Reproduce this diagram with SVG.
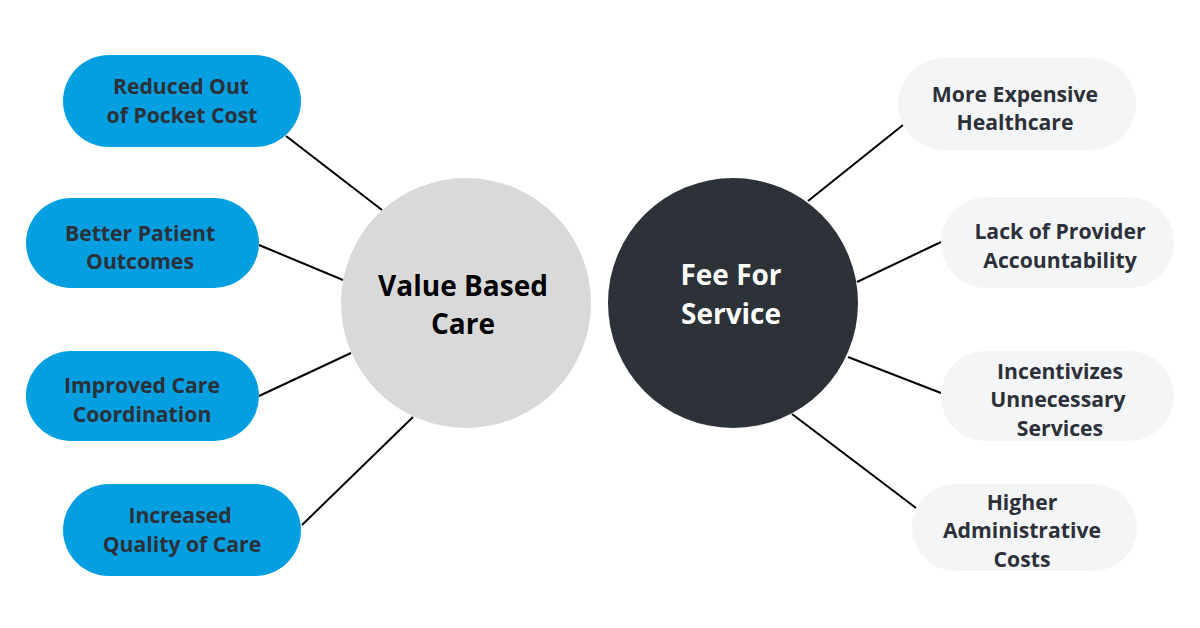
<svg xmlns="http://www.w3.org/2000/svg" width="1200" height="628" viewBox="0 0 1200 628">
<style>
.blue{fill:#039fe1}
.light{fill:#f4f5f7}
.pt{font-family:"Open Sans","Liberation Sans",sans-serif;font-weight:700;font-size:21.2px;fill:#2c3038;text-anchor:middle}
.ct{font-family:"Open Sans","Liberation Sans",sans-serif;font-weight:700;font-size:28px;text-anchor:middle}
.conn line{stroke:#000;stroke-width:2}
</style>
<rect width="1200" height="628" fill="#fff"/>
<g id="connectors" class="conn">
<line x1="286" y1="136" x2="382" y2="210"/>
<line x1="259" y1="245" x2="343" y2="280"/>
<line x1="259" y1="396" x2="351" y2="353"/>
<line x1="302" y1="525" x2="413" y2="417"/>
<line x1="808" y1="201" x2="903" y2="125"/>
<line x1="857" y1="282" x2="941" y2="242"/>
<line x1="848" y1="357" x2="941" y2="393"/>
<line x1="792" y1="414" x2="916" y2="508"/>
</g>
<g id="value-based-care">
<circle cx="466" cy="303" r="125" fill="#d9d9d9"/>
<text class="ct" fill="#000"><tspan x="463" y="296">Value Based</tspan><tspan x="463" y="334">Care</tspan></text>
</g>
<g id="fee-for-service">
<circle cx="733" cy="303" r="125" fill="#2d3238"/>
<text class="ct" fill="#fff"><tspan x="731" y="285">Fee For</tspan><tspan x="731" y="324">Service</tspan></text>
</g>
<g id="reduced-cost">
<rect class="blue" x="63" y="55" width="238" height="92" rx="46"/>
<text class="pt"><tspan x="181" y="94">Reduced Out</tspan><tspan x="182" y="123">of Pocket Cost</tspan></text>
</g>
<g id="better-outcomes">
<rect class="blue" x="26" y="198" width="233" height="90" rx="45"/>
<text class="pt"><tspan x="140" y="241">Better Patient</tspan><tspan x="140" y="269">Outcomes</tspan></text>
</g>
<g id="care-coordination">
<rect class="blue" x="26" y="351" width="233" height="90" rx="45"/>
<text class="pt"><tspan x="142" y="393">Improved Care</tspan><tspan x="142" y="422">Coordination</tspan></text>
</g>
<g id="quality-of-care">
<rect class="blue" x="63" y="484" width="238" height="92" rx="46"/>
<text class="pt"><tspan x="180" y="523">Increased</tspan><tspan x="182" y="552">Quality of Care</tspan></text>
</g>
<g id="more-expensive">
<rect class="light" x="898" y="58" width="238" height="92" rx="46"/>
<text class="pt"><tspan x="1015" y="102">More Expensive</tspan><tspan x="1015" y="130">Healthcare</tspan></text>
</g>
<g id="lack-accountability">
<rect class="light" x="941" y="197" width="233" height="91" rx="45.5"/>
<text class="pt"><tspan x="1060" y="239">Lack of Provider</tspan><tspan x="1060" y="268">Accountability</tspan></text>
</g>
<g id="unnecessary-services">
<rect class="light" x="941" y="351" width="233" height="90" rx="45"/>
<text class="pt"><tspan x="1060" y="379">Incentivizes</tspan><tspan x="1058" y="407">Unnecessary</tspan><tspan x="1060" y="436">Services</tspan></text>
</g>
<g id="admin-costs">
<rect class="light" x="912" y="484" width="225" height="87" rx="43.5"/>
<text class="pt"><tspan x="1022" y="510">Higher</tspan><tspan x="1022" y="538">Administrative</tspan><tspan x="1022" y="567">Costs</tspan></text>
</g>
</svg>
